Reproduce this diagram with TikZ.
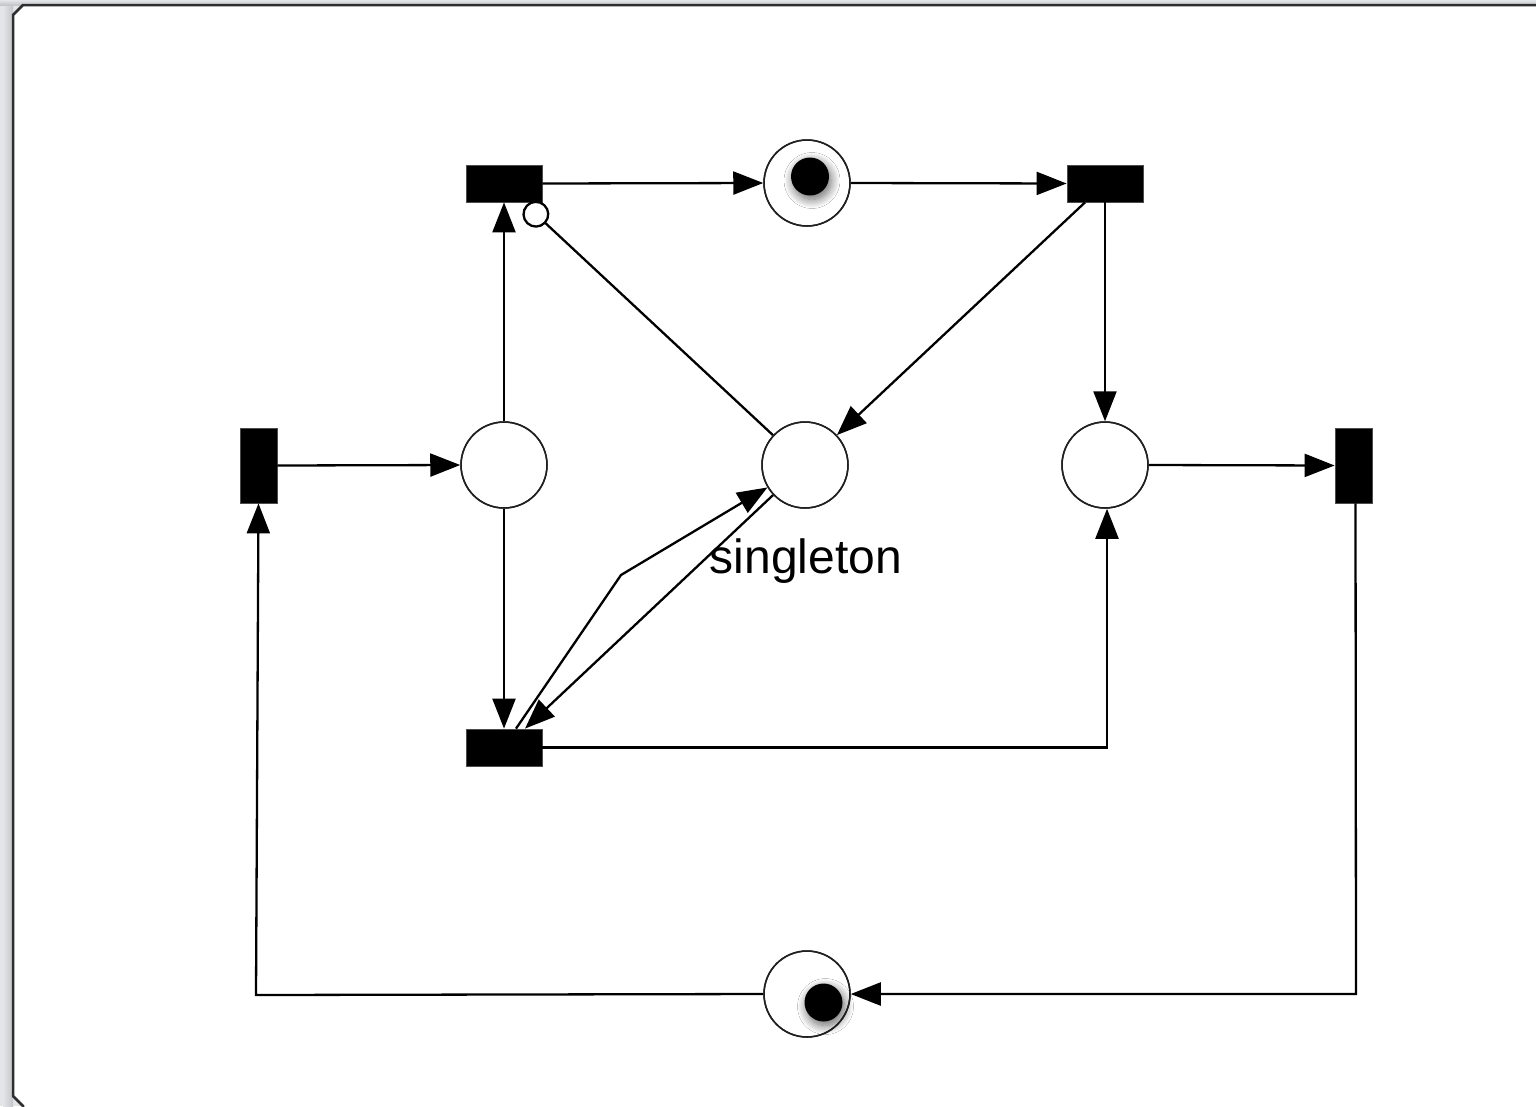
\documentclass[tikz,border=0pt]{standalone}
\usepackage{fontspec}
\setmainfont{Liberation Sans}
\usetikzlibrary{arrows.meta,shadows.blur}

\definecolor{chrome}{HTML}{E4E5E8}
\definecolor{chromedark}{HTML}{C4C5C9}
\definecolor{frameline}{HTML}{2E2E2E}
\definecolor{ringline}{HTML}{202020}

\begin{document}
\begin{tikzpicture}[x=1pt,y=-1pt,
  hbar/.style={draw=black!70, line width=0.8pt, fill=black, inner sep=0pt,
               minimum width=76pt, minimum height=37pt},
  vbar/.style={draw=black!70, line width=0.8pt, fill=black, inner sep=0pt,
               minimum width=37pt, minimum height=75pt},
  place/.style={circle, draw=ringline, line width=1.5pt, fill=white,
                inner sep=0pt, minimum size=86pt},
  token/.style={circle, fill=black, inner sep=0pt, minimum size=38pt,
                blur shadow={shadow xshift=2pt, shadow yshift=-4pt,
                  shadow blur radius=9pt, shadow blur steps=14,
                  shadow opacity=60}},
  arc/.style={line width=2.3pt, line join=miter,
              -{Triangle[length=30pt,width=23pt]}},
  inhib/.style={line width=2.3pt,
              -{Circle[open,length=27pt,width=27pt,line width=2.3pt]}},
  lbl/.style={font=\fontsize{48}{58}\selectfont, inner sep=0pt}
]
\useasboundingbox (0,0) rectangle (1536,1106);
\clip (0,0) rectangle (1536,1106);

% window chrome and sheet
\fill[chrome] (0,0) rectangle (1536,1106);
\shade[left color=chrome, right color=chromedark] (3,0) rectangle (13,1106);
\shade[top color=chrome, bottom color=chromedark] (0,0) rectangle (1536,5);
\draw[frameline, fill=white, line width=2.5pt]
  (1545,5) -- (23,5) -- (13,15) -- (13,1096) -- (23,1106) -- (23,1115)
  -- (1545,1115) -- cycle;

% transitions
\node[hbar] (T1) at (504,183.5) {};
\node[hbar] (T2) at (1105,183.5) {};
\node[vbar] (T3) at (258.5,465.5) {};
\node[vbar] (T4) at (1353.5,465.5) {};
\node[hbar] (T5) at (504,747.5) {};

% places
\node[place] (Ptop) at (807,183) {};
\node[place] (P1) at (504,465) {};
\node[place] (P2) at (805,465) {};
\node[place] (P3) at (1105,465) {};
\node[place] (Pbot) at (807,994) {};

% tokens
\node[token] (k1) at (810,176.5) {};
\node[token] (k2) at (823.5,1002.5) {};

% label
\node[lbl] (lab) at (806,561) {singleton};

% helper points for bends
\coordinate (inh) at (526,205);
\coordinate (bend) at (621,575);
\coordinate (rc) at (1356,994);
\coordinate (lc) at (256,995);

% arcs
\draw[arc] (T1.east) -- (Ptop.west);
\draw[arc] (Ptop.east) -- (T2.west);
\draw[arc] ([xshift=-20pt]T2.south) -- (P2);
\draw[arc] (T2.south) -- (P3.north);
\draw[inhib] (P2) -- (inh);
\draw[arc] (P1.north) -- (T1.south);
\draw[arc] (T3.east) -- (P1.west);
\draw[arc] (P1.south) -- (T5.north);
\draw[arc] (P2) -- ([xshift=21pt]T5.north);
\draw[arc] ([xshift=12pt]T5.north) -- (bend) -- (P2);
\draw[arc] (T5.east) -| ([xshift=2pt]P3.south);
\draw[arc] (P3.east) -- (T4.west);
\draw[arc] ([xshift=2pt]T4.south) -- (rc) -- (Pbot.east);
\draw[arc] (Pbot.west) -- (lc) -- (T3.south);

% place rims redrawn so arc starts sit cleanly at the edge
\foreach \p in {Ptop,P1,P2,P3,Pbot}
  \draw[ringline, line width=1.5pt] (\p) circle (43pt);
\end{tikzpicture}
\end{document}
